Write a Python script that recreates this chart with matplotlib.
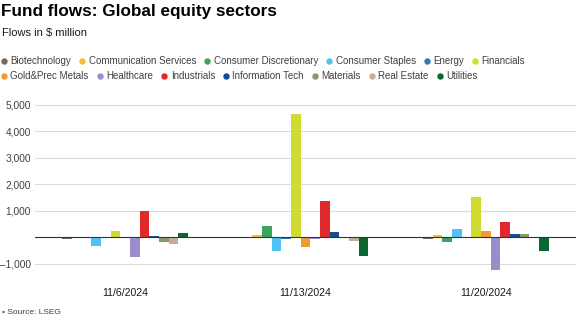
import matplotlib

matplotlib.use("Agg")
import matplotlib.pyplot as plt  # noqa: E402
import numpy as np  # noqa: E402

plt.rcParams["font.family"] = ["Liberation Sans", "DejaVu Sans"]

INK = "#1a1a1a"
GREY = "#404040"
GRID = "#dcdcdc"

dates = ["11/6/2024", "11/13/2024", "11/20/2024"]
sectors = [
    "Biotechnology",
    "Communication Services",
    "Consumer Discretionary",
    "Consumer Staples",
    "Energy",
    "Financials",
    "Gold&Prec Metals",
    "Healthcare",
    "Industrials",
    "Information Tech",
    "Materials",
    "Real Estate",
    "Utilities",
]
colors = [
    "#7b6656",
    "#f2c12e",
    "#3aa35c",
    "#4fc4f2",
    "#3a78b0",
    "#cfdb2f",
    "#f39a32",
    "#9b8dcc",
    "#e0292b",
    "#1b4a93",
    "#8b9770",
    "#c9ac98",
    "#0a6631",
]
# flows in $ million, one list per sector across the three weeks
biotech = [-70, 10, -75]
comm_services = [-40, 75, 75]
cons_disc = [-30, 400, -175]
cons_staples = [-340, -515, 310]
energy = [-20, -60, 15]
financials = [240, 4650, 1525]
gold = [-10, -365, 240]
healthcare = [-740, -75, -1250]
industrials = [1000, 1345, 560]
info_tech = [30, 175, 100]
materials = [-170, -20, 100]
real_estate = [-250, -165, -30]
utilities = [140, -715, -540]
flows = [
    biotech, comm_services, cons_disc, cons_staples, energy, financials, gold,
    healthcare, industrials, info_tech, materials, real_estate, utilities,
]
yticks = [-1000, 1000, 2000, 3000, 4000, 5000]

fig = plt.figure(figsize=(5.76, 3.24), dpi=100)
ax = fig.add_axes([0.061, 0.162, 0.939, 0.540])

x = np.arange(len(dates))
n = len(sectors)
width = 0.0536
for i, (vals, c) in enumerate(zip(flows, colors)):
    ax.bar(x + (i - (n - 1) / 2) * width, vals, width=width, color=c, zorder=3)

ax.set_xlim(-0.5, len(dates) - 0.5)
ax.set_ylim(-1300, 5300)
ax.set_yticks(yticks)
ax.set_yticklabels([f"{v:,}".replace("-", "\u2013") for v in yticks])
ax.set_xticks(x)
ax.set_xticklabels(dates)
ax.grid(axis="y", color=GRID, linewidth=0.8, zorder=0)
ax.axhline(0, color="#333333", linewidth=0.8, zorder=4)
ax.tick_params(axis="y", length=0, pad=3, labelsize=7.3, labelcolor=GREY)
ax.tick_params(axis="x", length=0, pad=12, labelsize=7.6, labelcolor=INK)
for s in ax.spines.values():
    s.set_visible(False)

fig.text(0.002, 0.966, "Fund flows: Global equity sectors", fontsize=12.3,
         fontweight="bold", color="black", va="center")
fig.text(0.004, 0.898, "Flows in $ million", fontsize=8, color=INK, va="center")

# legend laid out left to right in two rows
renderer = fig.canvas.get_renderer()
rows = [sectors[:6], sectors[6:]]
row_y = [0.811, 0.765]
k = 0
for names, yy in zip(rows, row_y):
    px = 4
    for name in names:
        fig.lines.append(plt.Line2D([px / 576], [yy], marker="o", markersize=3.6,
                                    color=colors[k], transform=fig.transFigure,
                                    linestyle="none"))
        t = fig.text((px + 6.5) / 576, yy, name, fontsize=7, color=GREY, va="center")
        w = t.get_window_extent(renderer).width
        px += 6.5 + w + 11
        k += 1

fig.text(0.004, 0.035, "\u2022 Source: LSEG", fontsize=6, color=GREY, va="center")

fig.savefig("out.png", dpi=100)
